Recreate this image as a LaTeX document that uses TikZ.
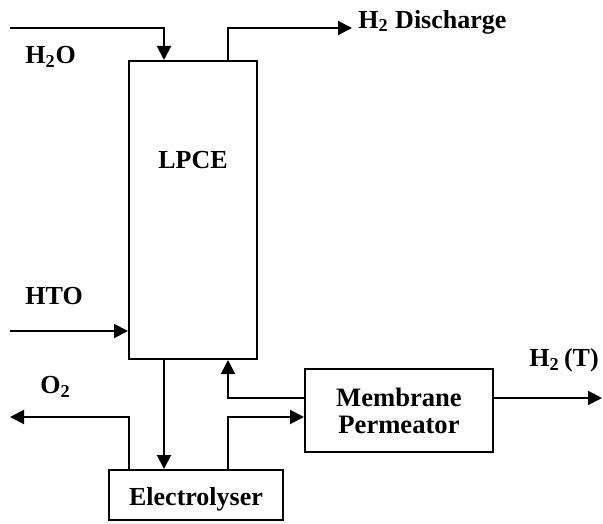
\documentclass[tikz,border=0pt]{standalone}
\usepackage{fontspec}
\setmainfont{Liberation Serif}
\usetikzlibrary{arrows.meta,positioning}

\tikzset{
  unitbox/.style={draw, line width=1pt, inner sep=0pt},
  flow/.style={line width=1pt, -{Triangle[length=7pt,width=7pt]}},
  tag/.style={font=\fontsize{13}{14}\selectfont\bfseries, inner sep=0pt}
}

\begin{document}
\begin{tikzpicture}[x=0.5pt, y=-0.5pt]
        \useasboundingbox (0,0) rectangle (603,523);
        % units
        \node[unitbox, minimum width=64pt, minimum height=149pt] (lpce) at (193,210) {};
        \node[tag] (lpcetext) at (193,160) {LPCE};
        \node[unitbox, minimum width=94pt, minimum height=41.5pt, align=center, font=\fontsize{13.3}{13.5}\selectfont\bfseries] (memb) at (399,410.5) {Membrane\\Permeator};
        \node[unitbox, minimum width=87pt, minimum height=25pt, font=\fontsize{13}{14}\selectfont\bfseries] (elec) at (196,495) {\raisebox{-5pt}[0pt][0pt]{Electrolyser}};

        % stream ends
        \coordinate (h2oin) at (10,28);
        \coordinate (h2out) at (352,28);
        \coordinate (htoin) at (10,331);
        \coordinate (o2out) at (10,417);
        \coordinate (h2tout) at (602,398);

        % labels
        \node[tag, anchor=west] (h2olabel) at (25,57) {H\textsubscript{2}O};
        \node[tag, anchor=west] (h2label) at (358,22) {H\textsubscript{2} Discharge};
        \node[tag, anchor=west] (htolabel) at (25,296) {HTO};
        \node[tag, anchor=west] (o2label) at (40,387) {O\textsubscript{2}};
        \node[tag, anchor=west] (h2tlabel) at (529,360) {H\textsubscript{2}\,(T)};

        % streams
        \draw[flow] (h2oin) -| ([xshift=-14.5pt]lpce.north);
        \draw[flow] ([xshift=17.5pt]lpce.north) |- (h2out);
        \draw[flow] (htoin) -- (htoin -| lpce.west);
        \draw[flow] ([xshift=-14.5pt]lpce.south) -- ([xshift=-14.5pt]lpce.south |- elec.north);
        \draw[flow] ([yshift=6.25pt]memb.west) -| ([xshift=17.5pt]lpce.south);
        \draw[flow] ([xshift=-33.5pt]elec.north) |- (o2out);
        \draw[flow] ([xshift=16pt]elec.north) |- ([yshift=-3.25pt]memb.west);
        \draw[flow] ([yshift=6.25pt]memb.east) -- (h2tout);
    \end{tikzpicture}
\end{document}
